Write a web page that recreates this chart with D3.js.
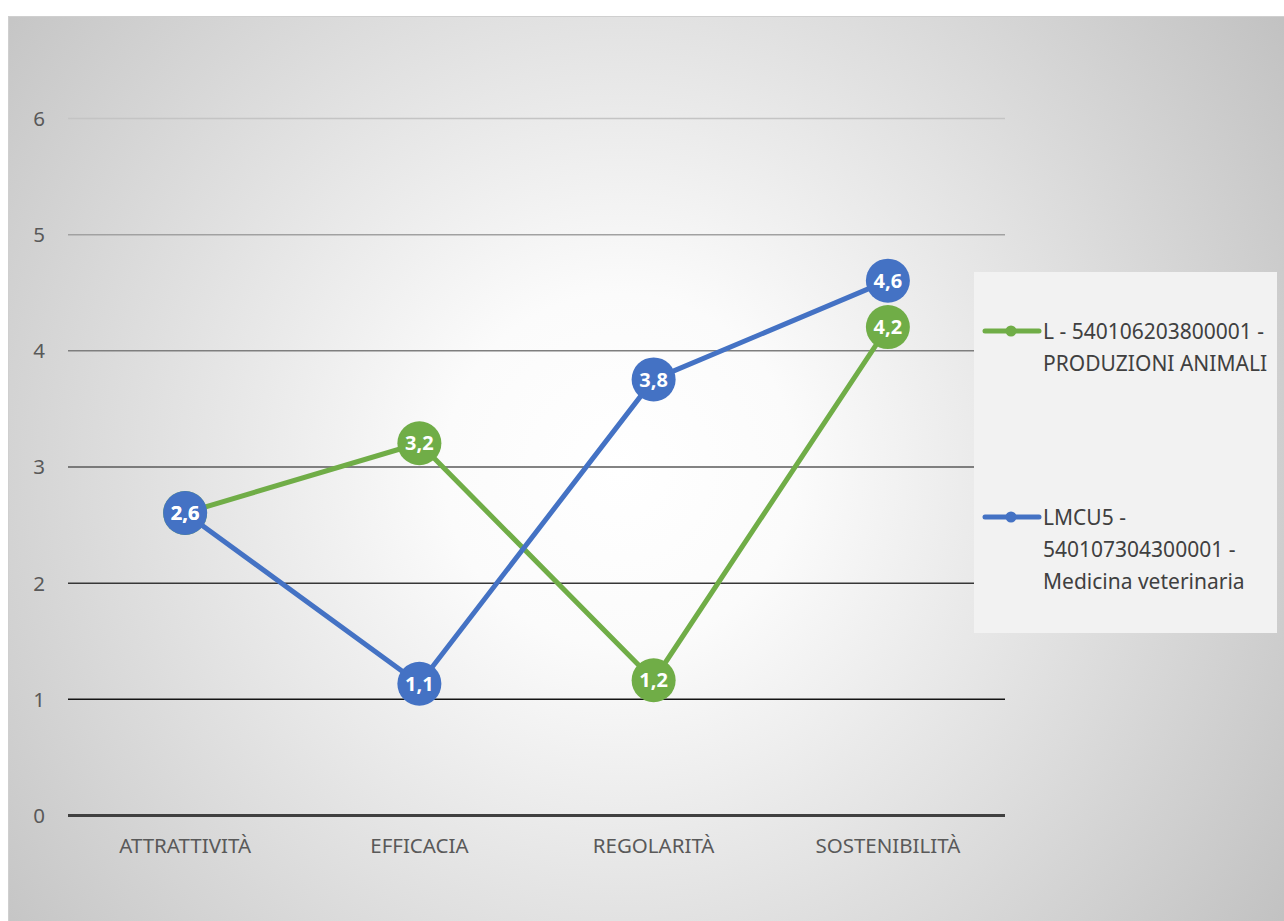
<!DOCTYPE html>
<html>
<head>
<meta charset="utf-8">
<script src="https://cdn.jsdelivr.net/npm/d3@7"></script>
<style>
  html, body { margin: 0; padding: 0; background: #ffffff; }
  svg { display: block; font-family: "Noto Sans", "Open Sans", sans-serif; }
</style>
</head>
<body>
<svg id="chart" width="1284" height="921"></svg>
<script>
// Categories and series values
const categories = ["ATTRATTIVITÀ", "EFFICACIA", "REGOLARITÀ", "SOSTENIBILITÀ"];
const seriesNames = [
  ["L - 540106203800001 -", "PRODUZIONI ANIMALI"],
  ["LMCU5 -", "540107304300001 -", "Medicina veterinaria"]
];
const produzioniAnimali = [2.6, 3.2, 1.16, 4.2];
const medicinaVeterinaria = [2.6, 1.13, 3.75, 4.6];
const yTicks = [0, 1, 2, 3, 4, 5, 6];

const seriesColors = ["#70ad47", "#4472c4"];
const series = [
  { name: seriesNames[0], values: produzioniAnimali, color: seriesColors[0] },
  { name: seriesNames[1], values: medicinaVeterinaria, color: seriesColors[1] }
];

const svg = d3.select("#chart");
const W = 1284, H = 921;

// Chart area background: soft radial gradient, white centre to grey edges
const defs = svg.append("defs");
const grad = defs.append("radialGradient")
  .attr("id", "bg")
  .attr("gradientUnits", "userSpaceOnUse")
  .attr("cx", 620).attr("cy", 470).attr("r", 800);
grad.append("stop").attr("offset", "0%").attr("stop-color", "#ffffff");
grad.append("stop").attr("offset", "22%").attr("stop-color", "#fbfbfb");
grad.append("stop").attr("offset", "100%").attr("stop-color", "#c2c2c2");

svg.append("rect")
  .attr("x", 8.5).attr("y", 16.5)
  .attr("width", W).attr("height", H)
  .attr("fill", "url(#bg)")
  .attr("stroke", "#cfcfcf").attr("stroke-width", 1);

// Scales
const plot = { left: 68, right: 1005, top: 118, bottom: 815 };
const x = d3.scaleBand().domain(categories).range([plot.left, plot.right]);
const y = d3.scaleLinear().domain([0, 6]).range([plot.bottom, plot.top]);

// Gridlines, getting darker toward the bottom of the plot
const gridColor = d3.scaleLinear().domain([6, 1]).range(["#c4c4c4", "#141414"]);
const yAxis = d3.axisLeft(y).tickValues(yTicks).tickFormat(d3.format("d")).tickSize(0).tickPadding(0);
const yg = svg.append("g").attr("transform", `translate(${plot.left},0)`).call(yAxis);
yg.select(".domain").remove();
yg.selectAll(".tick text")
  .attr("x", -29)
  .attr("dy", "0.36em")
  .attr("text-anchor", "middle")
  .attr("fill", "#595959")
  .style("font-size", "20.5px")
  .style("font-family", "'Noto Sans', sans-serif");
yg.selectAll(".tick line")
  .attr("x2", plot.right - plot.left)
  .attr("stroke", d => d === 0 ? "#404040" : gridColor(d))
  .attr("stroke-width", d => d === 0 ? 3 : 1.5);

// Category axis labels
const xAxis = d3.axisBottom(x).tickSize(0).tickPadding(0);
const xg = svg.append("g").attr("transform", `translate(0,${plot.bottom})`).call(xAxis);
xg.select(".domain").remove();
xg.selectAll(".tick text")
  .attr("y", 31)
  .attr("dy", "0.36em")
  .attr("fill", "#595959")
  .style("font-size", "20.5px")
  .style("font-family", "'Noto Sans', sans-serif");

// Lines and markers
const cx = (d, i) => x(categories[i]) + x.bandwidth() / 2;
const line = d3.line().x((d, i) => cx(d, i)).y(d => y(d));
const fmt = d3.formatLocale({ decimal: ",", thousands: ".", grouping: [3], currency: ["", "€"] }).format(".1f");

series.forEach(s => {
  svg.append("path")
    .datum(s.values)
    .attr("d", line)
    .attr("fill", "none")
    .attr("stroke", s.color)
    .attr("stroke-width", 5)
    .attr("stroke-linejoin", "round");
  svg.append("g").selectAll("circle")
    .data(s.values)
    .join("circle")
    .attr("cx", cx)
    .attr("cy", d => y(d))
    .attr("r", 22)
    .attr("fill", s.color);
});

// Data labels on top of markers
series.forEach(s => {
  svg.append("g").selectAll("text")
    .data(s.values)
    .join("text")
    .attr("x", cx)
    .attr("y", d => y(d))
    .attr("dy", "0.36em")
    .attr("text-anchor", "middle")
    .attr("fill", "#ffffff")
    .style("font-size", "20px")
    .style("font-weight", "bold")
    .text(d => fmt(d));
});

// Legend
const lg = svg.append("g");
lg.append("rect")
  .attr("x", 974).attr("y", 272)
  .attr("width", 303).attr("height", 361)
  .attr("fill", "#f2f2f2");
const legendRows = [331, 517];
series.forEach((s, i) => {
  const yy = legendRows[i];
  lg.append("line")
    .attr("x1", 985).attr("x2", 1039)
    .attr("y1", yy).attr("y2", yy)
    .attr("stroke", s.color).attr("stroke-width", 5)
    .attr("stroke-linecap", "round");
  lg.append("circle")
    .attr("cx", 1011).attr("cy", yy).attr("r", 5.5)
    .attr("fill", s.color);
  const t = lg.append("text")
    .attr("x", 1043).attr("y", yy)
    .attr("fill", "#404040")
    .style("font-size", "21px");
  s.name.forEach((ln, j) => {
    t.append("tspan")
      .attr("x", 1043)
      .attr("dy", j === 0 ? "0.36em" : "32px")
      .text(ln);
  });
});
</script>
</body>
</html>
